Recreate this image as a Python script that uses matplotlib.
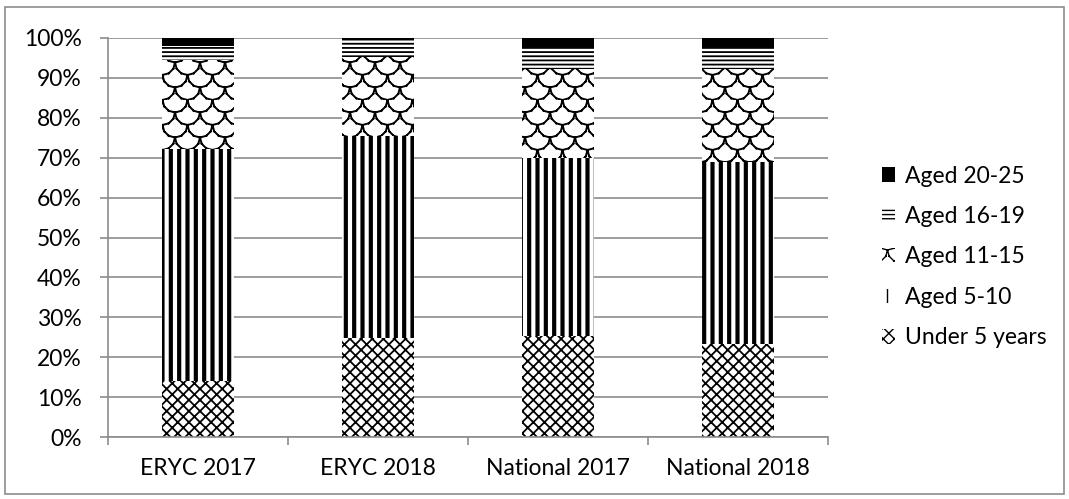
import numpy as np
import matplotlib
matplotlib.use("Agg")
import matplotlib.pyplot as plt
import matplotlib.hatch as mhatch
from matplotlib.path import Path
from matplotlib.patches import Rectangle

plt.rcParams['font.family'] = ['Lato', 'DejaVu Sans']

groups = ["ERYC 2017", "ERYC 2018", "National 2017", "National 2018"]
under5 = [14.0, 24.7, 25.2, 23.2]
aged_5_10 = [58.2, 50.7, 44.7, 45.7]
aged_11_15 = [22.3, 19.9, 22.4, 23.4]
aged_16_19 = [3.5, 4.1, 5.4, 5.4]
aged_20_25 = [2.0, 0.6, 2.3, 2.3]


# fish-scale hatch for the '~' character (line segments only, so nothing gets filled)
class ScalesHatch(mhatch.HatchPatternBase):
    def __init__(self, hatch, density):
        self.cols = hatch.count('~') * 4
        self.rows = self.cols * 2
        self.steps = 6
        n_arcs = (self.rows // 2) * self.cols + (self.rows // 2) * (self.cols + 1)
        self.num_vertices = n_arcs * self.steps * 2

    def set_vertices_and_codes(self, vertices, codes):
        w = 1.0 / self.cols
        h = 1.0 / self.rows
        t = np.linspace(0, np.pi, self.steps + 1)
        ax_ = w / 2 * (1 - np.cos(t))
        ay_ = -h * np.sin(t)
        k = 0
        for j in range(self.rows):
            y0 = (j + 1) * h
            if j % 2 == 0:
                starts = [i * w for i in range(self.cols)]
            else:
                starts = [-w / 2 + i * w for i in range(self.cols + 1)]
            for x0 in starts:
                for s in range(self.steps):
                    vertices[k] = (x0 + ax_[s], y0 + ay_[s])
                    vertices[k + 1] = (x0 + ax_[s + 1], y0 + ay_[s + 1])
                    codes[k] = Path.MOVETO
                    codes[k + 1] = Path.LINETO
                    k += 2


mhatch._hatch_types.append(ScalesHatch)

series = [
    ("Under 5 years", under5, "xxx", 1.3),
    ("Aged 5-10", aged_5_10, "||", 3.0),
    ("Aged 11-15", aged_11_15, "~", 1.4),
    ("Aged 16-19", aged_16_19, "----", 1.3),
    ("Aged 20-25", aged_20_25, None, 1.0),
]

fig = plt.figure(figsize=(10.69, 4.99), dpi=100)
ax = fig.add_axes([108 / 1069, 62 / 499, 720 / 1069, 399 / 499])

x = np.arange(len(groups))
bottom = np.zeros(len(groups))
handles = []
for name, vals, hatch, hlw in series:
    plt.rcParams['hatch.linewidth'] = hlw
    if hatch is None:
        bars = ax.bar(x, vals, 0.4, bottom=bottom, color="black", linewidth=0, label=name)
    else:
        bars = ax.bar(x, vals, 0.4, bottom=bottom, facecolor="white", edgecolor="black",
                      hatch=hatch, linewidth=0, label=name)
    handles.append(bars)
    bottom += np.array(vals)

ax.set_xlim(-0.5, 3.5)
ax.set_ylim(0, 100)
ax.set_yticks(np.arange(0, 101, 10))
ax.set_yticklabels([f"{v}%" for v in range(0, 101, 10)], fontsize=16.5)
ax.set_xticks(x)
ax.set_xticklabels(groups, fontsize=16.5)
ax.set_xticks(np.arange(-0.5, 4, 1), minor=True)
ax.tick_params(axis="x", which="major", length=0, pad=15)
ax.tick_params(axis="x", which="minor", length=6, color="#8c8c8c", width=1.2)
ax.tick_params(axis="y", length=6, color="#8c8c8c", width=1.2, pad=13)
ax.yaxis.grid(True, color="#8c8c8c", linewidth=1.2)
ax.set_axisbelow(True)
for s in ["top", "right"]:
    ax.spines[s].set_visible(False)
for s in ["left", "bottom"]:
    ax.spines[s].set_color("#8c8c8c")
    ax.spines[s].set_linewidth(1.2)

plt.rcParams['hatch.linewidth'] = 1.0
leg = fig.legend(handles[::-1], [s[0] for s in series][::-1], loc="center left",
                 bbox_to_anchor=(861 / 1069, 0.485), frameon=False, fontsize=16.5,
                 handlelength=0.6, handleheight=0.6, handletextpad=0.4, labelspacing=0.85)

fig.patches.append(Rectangle((5 / 1069, 5 / 499), 1059 / 1069, 487 / 499, transform=fig.transFigure,
                             fill=False, edgecolor="#8c8c8c", linewidth=1.2))

fig.savefig("out.png", dpi=100)
